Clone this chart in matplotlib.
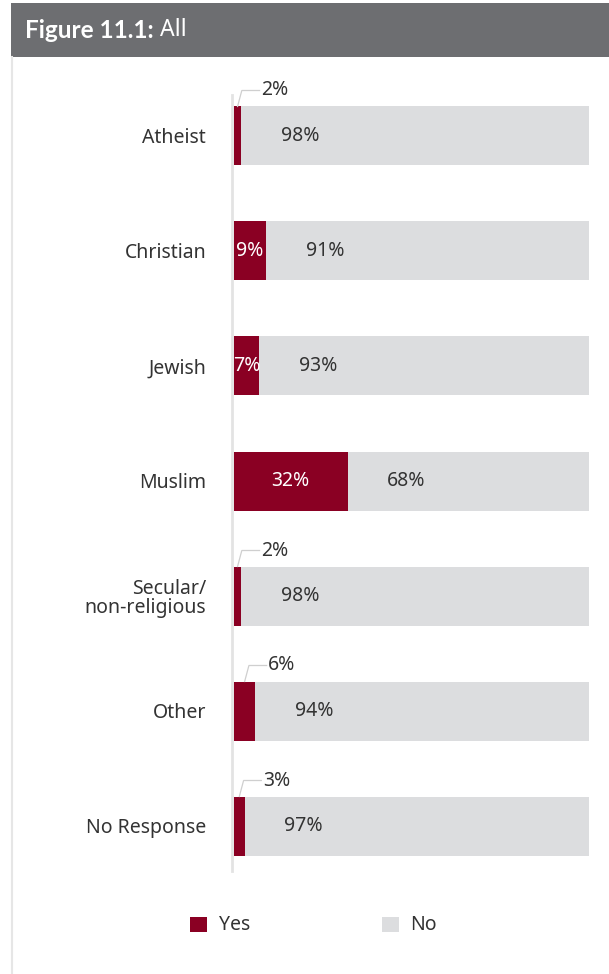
import matplotlib
matplotlib.use("Agg")
import matplotlib.pyplot as plt
from matplotlib.patches import Rectangle
from matplotlib.lines import Line2D

categories = ["Atheist", "Christian", "Jewish", "Muslim", "Secular/\nnon-religious", "Other", "No Response"]
yes_vals = [2, 9, 7, 32, 2, 6, 3]
no_vals = [98, 91, 93, 68, 98, 94, 97]
series_names = ["Yes", "No"]
title_bold = "Figure 11.1:"
title_rest = " All"

RED = "#8a0023"
GRAY = "#dcdddf"
HEAD = "#6d6e71"
TXT = "#333333"
FONT = ["Noto Sans", "DejaVu Sans"]
BOLDFONT = ["Lato", "DejaVu Sans"]
WT = "normal"
FS = 14

W, H = 609, 974
fig = plt.figure(figsize=(W / 100, H / 100), dpi=100)
fig.patch.set_facecolor("white")

def fx(px):
    return px / W

def fy(py):
    return 1 - py / H

# header band and left border
fig.patches.append(Rectangle((fx(11), fy(57)), 1 - fx(11), (57 - 3) / H,
                             transform=fig.transFigure, facecolor=HEAD, edgecolor="none"))
fig.lines.append(Line2D([fx(11.5), fx(11.5)], [fy(57), 0], transform=fig.transFigure,
                        color="#e6e6e6", linewidth=1.5))

t1 = fig.text(fx(25), fy(30), title_bold, color="white", fontsize=17.5, fontweight="bold",
              family=BOLDFONT, va="center", ha="left")
fig.canvas.draw()
bb = t1.get_window_extent(renderer=fig.canvas.get_renderer())
fig.text(bb.x1 / W, fy(30), title_rest, color="white", fontsize=16.5, family=FONT,
         fontweight=WT, va="center", ha="left")

# axes
ax_left, ax_right, ax_top, ax_bot = 234, 589, 95, 871
ax = fig.add_axes([fx(ax_left), fy(ax_bot), (ax_right - ax_left) / W, (ax_bot - ax_top) / H])
ax.set_facecolor("none")
step = 115.0
c0 = 136
ax.set_xlim(0, 100)
ax.set_ylim(6 + (ax_bot - (c0 + 6 * step)) / step, -(c0 - ax_top) / step)
ypos = list(range(len(categories)))
bh = 59 / step
ax.barh(ypos, yes_vals, height=bh, color=RED, edgecolor="none")
ax.barh(ypos, no_vals, left=yes_vals, height=bh, color=GRAY, edgecolor="none")

for s in ["top", "right", "bottom"]:
    ax.spines[s].set_visible(False)
ax.spines["left"].set_color("#e3e3e3")
ax.spines["left"].set_linewidth(2)
ax.spines["left"].set_position(("outward", 1.5))
ax.set_xticks([])
ax.set_yticks(ypos)
ax.set_yticklabels(categories, fontsize=FS, color=TXT, family=FONT, fontweight=WT,
                   linespacing=0.95)
ax.tick_params(axis="y", length=0, pad=18.5)

px_unit = 100 / (ax_right - ax_left)
for i, (y, n) in enumerate(zip(yes_vals, no_vals)):
    ax.text(y + 59 * px_unit, i, f"{n}%", ha="center", va="center", fontsize=FS,
            color=TXT, family=FONT, fontweight=WT)
    if y >= 7:
        ax.text(y / 2, i, f"{y}%", ha="center", va="center", fontsize=FS,
                color="white", family=FONT, fontweight=WT)
    else:
        top = i - bh / 2
        x0 = y / 2
        xk = x0 + 1.2
        yk = top - 16 / step
        xe = xk + 5
        ax.plot([x0, xk, xe], [top, yk, yk], color="#cfcfcf", linewidth=0.9,
                clip_on=False, solid_joinstyle="miter")
        ax.text(xe + 0.4, yk, f"{y}%", ha="left", va="center", fontsize=FS,
                color=TXT, family=FONT, fontweight=WT)

# legend
for (x0, x1, tx), name, col in [((190, 207, 219), series_names[0], RED),
                                ((382, 399, 410), series_names[1], GRAY)]:
    fig.patches.append(Rectangle((fx(x0), fy(932)), (x1 - x0) / W, 15 / H,
                                 transform=fig.transFigure, facecolor=col, edgecolor="none"))
    fig.text(fx(tx), fy(925), name, fontsize=FS, color=TXT, family=FONT, fontweight=WT,
             va="center", ha="left")

fig.savefig("out.png", dpi=100, facecolor="white")
